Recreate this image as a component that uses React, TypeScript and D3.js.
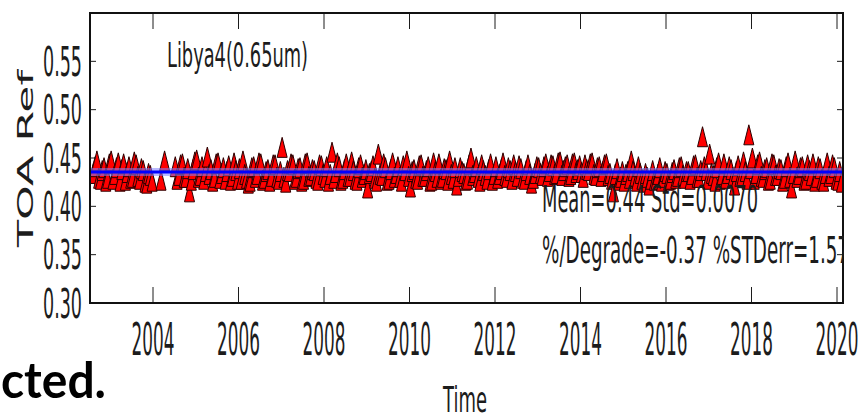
import React from 'react';
import * as d3 from 'd3';

// Semi-monthly TOA reflectance (rows = years starting at startYear, 24 samples each)
const startYear = 2002;
const semiMonthlyRef: (number | null)[][] = [
  [null, null, null, null, null, null, null, null, null, null, null, null, null, null, 0.434, 0.441, 0.447, 0.429, 0.428, 0.437, 0.440, 0.426, 0.429, 0.444],
  [0.447, 0.428, 0.433, 0.440, 0.445, 0.426, 0.438, 0.444, 0.427, 0.435, 0.441, 0.429, 0.430, 0.446, 0.443, 0.431, 0.428, 0.439, 0.437, 0.425, 0.424, 0.434, 0.432, 0.426],
  [null, null, null, null, 0.427, null, 0.447, null, null, null, null, null, 0.441, 0.428, 0.432, 0.443, 0.444, 0.430, 0.430, 0.439, 0.415, 0.427, 0.438, 0.446],
  [0.448, 0.430, 0.432, 0.441, 0.428, 0.436, 0.451, 0.433, 0.438, 0.426, 0.430, 0.444, 0.445, 0.429, 0.434, 0.440, 0.428, 0.436, 0.442, 0.427, 0.431, 0.445, 0.437, 0.428],
  [0.439, 0.428, 0.447, 0.433, 0.429, 0.424, 0.426, 0.440, 0.441, 0.430, 0.433, 0.445, 0.444, 0.427, 0.429, 0.436, 0.438, 0.426, 0.431, 0.443, 0.443, 0.430, 0.428, 0.436],
  [0.461, 0.430, 0.425, 0.437, 0.436, 0.444, 0.443, 0.428, 0.430, 0.439, 0.440, 0.426, 0.428, 0.444, 0.445, 0.431, 0.432, 0.438, 0.437, 0.429, 0.427, 0.443, 0.442, 0.433],
  [0.430, 0.441, 0.426, 0.433, 0.456, 0.429, 0.435, 0.445, 0.441, 0.427, 0.429, 0.438, 0.444, 0.431, 0.431, 0.446, 0.437, 0.428, 0.427, 0.440, 0.443, 0.430, 0.433, 0.438],
  [0.419, 0.434, 0.436, 0.442, 0.429, 0.426, 0.454, 0.433, 0.432, 0.444, 0.440, 0.427, 0.428, 0.438, 0.445, 0.430, 0.434, 0.441, 0.430, 0.426, 0.442, 0.437, 0.447, 0.431],
  [0.420, 0.436, 0.438, 0.429, 0.428, 0.442, 0.443, 0.431, 0.431, 0.437, 0.441, 0.426, 0.427, 0.445, 0.436, 0.430, 0.444, 0.428, 0.430, 0.439, 0.438, 0.427, 0.447, 0.433],
  [0.429, 0.440, 0.422, 0.431, 0.440, 0.436, 0.434, 0.427, 0.428, 0.443, 0.450, 0.432, 0.435, 0.441, 0.430, 0.426, 0.443, 0.437, 0.432, 0.428, 0.438, 0.444, 0.427, 0.433],
  [0.441, 0.429, 0.433, 0.438, 0.445, 0.432, 0.430, 0.440, 0.437, 0.428, 0.443, 0.436, 0.431, 0.442, 0.439, 0.429, 0.428, 0.437, 0.443, 0.433, 0.424, 0.429, 0.434, 0.441],
  [0.440, 0.434, 0.432, 0.441, 0.444, 0.431, 0.436, 0.443, 0.442, 0.433, 0.434, 0.445, 0.446, 0.432, 0.437, 0.441, 0.443, 0.431, 0.433, 0.444, 0.445, 0.435, 0.438, 0.442],
  [0.435, 0.430, 0.443, 0.438, 0.437, 0.444, 0.445, 0.433, 0.432, 0.440, 0.441, 0.431, 0.436, 0.443, 0.444, 0.432, 0.434, 0.428, 0.415, 0.433, 0.439, 0.427, 0.430, 0.436],
  [0.426, 0.433, 0.436, 0.429, 0.447, 0.437, 0.431, 0.426, 0.441, 0.434, 0.428, 0.425, 0.434, 0.430, 0.422, 0.428, 0.437, 0.427, 0.428, 0.433, 0.440, 0.426, 0.430, 0.436],
  [0.434, 0.427, 0.428, 0.435, 0.438, 0.429, 0.431, 0.440, 0.441, 0.432, 0.429, 0.436, 0.436, 0.428, 0.433, 0.442, 0.443, 0.430, 0.430, 0.437, 0.472, 0.441, 0.437, 0.428],
  [0.454, 0.434, 0.432, 0.426, 0.440, 0.445, 0.428, 0.433, 0.444, 0.429, 0.434, 0.441, 0.438, 0.430, 0.422, 0.436, 0.442, 0.431, 0.431, 0.446, 0.436, 0.428, 0.474, 0.439],
  [0.450, 0.428, 0.434, 0.443, 0.446, 0.431, 0.430, 0.438, 0.440, 0.427, 0.428, 0.444, 0.443, 0.432, 0.432, 0.439, 0.438, 0.426, 0.429, 0.441, 0.445, 0.430, 0.419, 0.434],
  [0.447, 0.430, 0.433, 0.440, 0.441, 0.427, 0.428, 0.443, 0.437, 0.432, 0.444, 0.426, 0.430, 0.441, 0.439, 0.428, 0.426, 0.434, 0.445, 0.431, 0.434, 0.443, 0.440, 0.428],
  [0.427, 0.436, 0.425],
];

const meanRef = 0.4356;
const xDomain = [2002.526, 2020.14];
const yDomain = [0.3, 0.6];
const xTicks = [2004, 2006, 2008, 2010, 2012, 2014, 2016, 2018, 2020];
const xTickLabels = ['2004', '2006', '2008', '2010', '2012', '2014', '2016', '2018', '2020'];
const yTicks = [0.3, 0.35, 0.4, 0.45, 0.5, 0.55];
const yTickLabels = ['0.30', '0.35', '0.40', '0.45', '0.50', '0.55'];
const titleText = 'Libya4(0.65um)';
const statsLine1 = 'Mean=0.44 Std=0.0070';
const statsLine2 = '%/Degrade=-0.37 %STDerr=1.57';
const xLabel = 'Time';
const yLabel = 'TOA Ref';
const captionText = 'cted.';

export default function App() {
  const W = 859, H = 420;
  const left = 90, right = 843, top = 13, bottom = 303;
  const x = d3.scaleLinear().domain(xDomain).range([left, right]);
  const y = d3.scaleLinear().domain(yDomain).range([bottom, top]);

  const points: { t: number; v: number }[] = [];
  semiMonthlyRef.forEach((row, i) =>
    row.forEach((v, k) => {
      if (v != null) points.push({ t: startYear + i + (k + 0.5) / 24, v });
    })
  );

  const triPath = 'M0,-10L5,10L-5,10Z';
  const font = 'DejaVu Sans, sans-serif';
  const ink = '#1c1c1c';

  return (
    <svg
      width={W}
      height={H}
      style={{ position: 'absolute', left: 0, top: 0, background: '#fff' }}
    >
      <defs>
        <clipPath id="plotclip">
          <rect x={left} y={top} width={right - left} height={bottom - top} />
        </clipPath>
        <clipPath id="textclip">
          <rect x={0} y={0} width={right + 1} height={H} />
        </clipPath>
      </defs>
      <rect x={0} y={0} width={W} height={H} fill="#fff" />

      {/* markers */}
      <g clipPath="url(#plotclip)">
        {points.map((p, i) => (
          <path
            key={i}
            d={triPath}
            transform={`translate(${x(p.t)},${y(p.v)})`}
            fill="#ff0000"
            stroke="#2a0000"
            strokeWidth={1}
          />
        ))}
        {/* mean line */}
        <line x1={left} x2={right} y1={y(meanRef)} y2={y(meanRef)} stroke="#8080ff" strokeOpacity={0.55} strokeWidth={8} />
        <line x1={left} x2={right} y1={y(meanRef)} y2={y(meanRef)} stroke="#0000ff" strokeWidth={3} />
      </g>

      {/* ticks */}
      {yTicks.map((t, i) => (
        <g key={'yt' + i}>
          <line x1={left} x2={left + 6} y1={y(t)} y2={y(t)} stroke={ink} strokeWidth={1} />
          <line x1={right - 6} x2={right} y1={y(t)} y2={y(t)} stroke={ink} strokeWidth={1} />
          <text
            x={82 - 39}
            y={y(t) + 14.5}
            fontFamily={font}
            fontSize={40}
            fill={ink}
            textLength={39}
            lengthAdjust="spacingAndGlyphs"
          >
            {yTickLabels[i]}
          </text>
        </g>
      ))}
      {xTicks.map((t, i) => (
        <g key={'xt' + i}>
          <line x1={x(t)} x2={x(t)} y1={bottom} y2={bottom - 16} stroke={ink} strokeWidth={1} />
          <line x1={x(t)} x2={x(t)} y1={top} y2={top + 16} stroke={ink} strokeWidth={1} />
          <text
            x={x(t) - 21.5}
            y={355}
            fontFamily={font}
            fontSize={45}
            fill={ink}
            textLength={43}
            lengthAdjust="spacingAndGlyphs"
          >
            {xTickLabels[i]}
          </text>
        </g>
      ))}

      {/* frame */}
      <rect x={left} y={top} width={right - left} height={bottom - top} fill="none" stroke="#111" strokeWidth={2} />

      {/* annotations */}
      <text x={167} y={67} fontFamily={font} fontSize={34} fill={ink} textLength={141} lengthAdjust="spacingAndGlyphs">
        {titleText}
      </text>
      <g clipPath="url(#textclip)">
        <text x={542} y={212} fontFamily={font} fontSize={37} fill={ink} textLength={216} lengthAdjust="spacingAndGlyphs">
          {statsLine1}
        </text>
        <text x={542} y={263} fontFamily={font} fontSize={37} fill={ink} textLength={307} lengthAdjust="spacingAndGlyphs">
          {statsLine2}
        </text>
      </g>

      {/* axis labels */}
      <text x={443} y={412} fontFamily={font} fontSize={36} fill={ink} textLength={44} lengthAdjust="spacingAndGlyphs">
        {xLabel}
      </text>
      <text
        transform="translate(33,247) rotate(-90)"
        x={0}
        y={0}
        fontFamily={font}
        fontSize={21}
        fill={ink}
        textLength={177}
        lengthAdjust="spacingAndGlyphs"
      >
        {yLabel}
      </text>

      {/* slide caption fragment */}
      <text x={1} y={398} fontFamily="Lato, Open Sans, sans-serif" fontWeight={700} fontSize={50} fill="#000" textLength={105} lengthAdjust="spacingAndGlyphs">
        {captionText}
      </text>
    </svg>
  );
}
